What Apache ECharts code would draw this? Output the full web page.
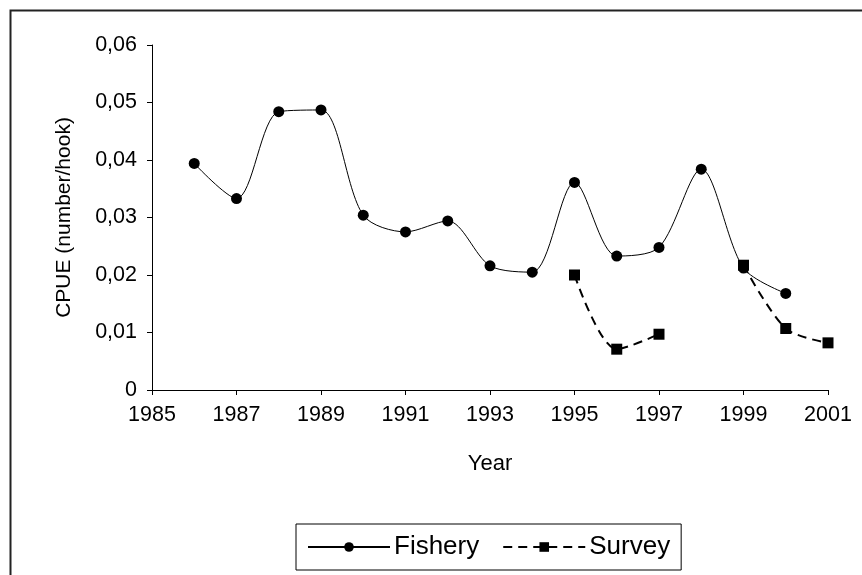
<!DOCTYPE html>
<html>
<head>
<meta charset="utf-8">
<script src="https://cdn.jsdelivr.net/npm/echarts@6/dist/echarts.min.js"></script>
<style>html,body{margin:0;padding:0;background:#fff}#c{width:862px;height:575px}</style>
</head>
<body>
<div id="c"></div>
<script>
const years = [1986,1987,1988,1989,1990,1991,1992,1993,1994,1995,1996,1997,1998,1999,2000,2001];
const fishery = [0.0394,0.0333,0.0484,0.0487,0.0304,0.0275,0.0294,0.0216,0.0205,0.0361,0.0233,0.0248,0.0384,0.0212,0.0168,null];
const survey = [null,null,null,null,null,null,null,null,null,0.0200,0.0071,0.0097,null,0.0217,0.0107,0.0082];
const yTicks = [0,0.01,0.02,0.03,0.04,0.05,0.06];

const font = 'Liberation Sans, Arial, sans-serif';
const chart = echarts.init(document.getElementById('c'), null, {renderer:'canvas'});
chart.setOption({
  backgroundColor:'#fff',
  animation:false,
  graphic:[{type:'rect',left:8,top:8,shape:{width:900,height:700},style:{fill:'none',stroke:'#222',lineWidth:2},z:-1,silent:true}],
  grid:{left:152,right:34,top:45,bottom:185,containLabel:false},
  xAxis:{
    type:'value',min:1985,max:2001,interval:2,
    name:'Year',nameLocation:'middle',nameGap:63,
    nameTextStyle:{color:'#000',fontSize:22,fontFamily:font},
    axisLine:{lineStyle:{color:'#000',width:1}},
    axisTick:{show:true,length:5,lineStyle:{color:'#000'}},
    axisLabel:{color:'#000',fontSize:21.5,fontFamily:font,margin:14,formatter:v=>String(v)},
    splitLine:{show:false}
  },
  yAxis:{
    type:'value',min:0,max:0.06,interval:0.01,
    name:'CPUE (number/hook)',nameLocation:'middle',nameGap:77,
    nameTextStyle:{color:'#000',fontSize:21,fontFamily:font},
    axisLine:{show:true,lineStyle:{color:'#000',width:1}},
    axisTick:{show:true,length:5,lineStyle:{color:'#000'}},
    axisLabel:{color:'#000',fontSize:21.5,fontFamily:font,margin:15,
      formatter:v=>{const t=yTicks.find(x=>Math.abs(x-v)<1e-9); const val=t===undefined?v:t; return val===0?'0':val.toFixed(2).replace('.',',');}},
    splitLine:{show:false}
  },
  legend:{
    left:296,top:524,orient:'horizontal',
    padding:[9,11,9,11],
    borderColor:'#000',borderWidth:1,
    itemWidth:82,itemHeight:12,itemGap:23,
    textStyle:{color:'#000',fontSize:26,fontFamily:font,lineHeight:28,padding:[0,0,0,-1]},
    data:['Fishery','Survey']
  },
  series:[
    {name:'Fishery',type:'line',smooth:0.3,connectNulls:false,
     data:years.map((y,i)=>[y,fishery[i]]),
     symbol:'circle',symbolSize:11,
     itemStyle:{color:'#000'},
     lineStyle:{color:'#000',width:1}},
    {name:'Survey',type:'line',smooth:0.3,connectNulls:false,
     data:years.map((y,i)=>[y,survey[i]]),
     symbol:'rect',symbolSize:11,
     itemStyle:{color:'#000'},
     lineStyle:{color:'#000',width:2,type:[9,6]}}
  ]
});
</script>
</body>
</html>
